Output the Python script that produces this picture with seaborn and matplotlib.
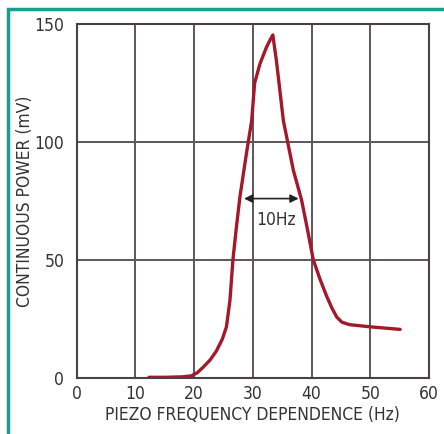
import numpy as np
import pandas as pd
import matplotlib
matplotlib.use("Agg")
import matplotlib.pyplot as plt
import seaborn as sns
from matplotlib.patches import Rectangle

freq = [12.3, 15, 18, 19.5, 20.5, 21.5, 22.7, 23.8, 24.8, 25.5, 26.1, 26.6, 27.2, 27.8,
        28.9, 29.8, 30.3, 31.2, 32.3, 33.0, 33.4, 34.0, 35.2, 36.9, 38.3, 39.3,
        40.3, 41.5, 42.6, 43.5, 44.3, 45.2, 46.5, 49.9, 55.1]
power = [0.3, 0.3, 0.5, 0.9, 2.2, 4.5, 7.6, 11.5, 16.5, 21.7, 33, 50, 64, 76.8,
         95, 109, 124.9, 133, 140, 143.5, 145.3, 134.7, 109, 88, 75.4, 63,
         50, 41.5, 34.5, 29.5, 25.8, 23.6, 22.6, 21.7, 20.6]
xticks = [0, 10, 20, 30, 40, 50, 60]
yticks = [0, 50, 100, 150]

sns.set_style("white")
plt.rcParams['font.family'] = ['DejaVu Sans']
plt.rcParams['font.stretch'] = 'condensed'

df = pd.DataFrame({"freq": freq, "power": power})

fig = plt.figure(figsize=(4.44, 4.34), dpi=100)
ax = fig.add_axes([0.173, 0.129, 0.793, 0.816])
sns.lineplot(data=df, x="freq", y="power", ax=ax, color="#a3192b", lw=2.4)

ax.set_xlim(0, 60)
ax.set_ylim(0, 150)
ax.set_xticks(xticks)
ax.set_yticks(yticks)
ax.grid(True, color="#5e5555", lw=1.4)
for s in ax.spines.values():
    s.set_color("#4a4242")
    s.set_linewidth(1.5)
ax.tick_params(length=0, labelsize=12.5, colors="#333333", pad=5)
ax.tick_params(axis="y", pad=9)
ax.set_xlabel("PIEZO FREQUENCY DEPENDENCE (Hz)", fontsize=12.5, color="#333333", labelpad=2)
ax.set_ylabel("CONTINUOUS POWER (mV)", fontsize=12.5, color="#333333", labelpad=0)

ax.annotate("", xy=(28.5, 76), xytext=(37.8, 76),
            arrowprops=dict(arrowstyle="<|-|>", color="#222222", lw=1.2,
                            mutation_scale=12, shrinkA=0, shrinkB=0))
ax.text(34.0, 67, "10Hz", ha="center", va="center", fontsize=12.5, color="#333333")

fig.patches.append(Rectangle((8 / 444, -0.05), 1.1, 1 - 9 / 434 + 0.05,
                             transform=fig.transFigure, fill=False,
                             edgecolor="#1a9e8c", lw=2.5))

fig.savefig("out.png", dpi=100)
